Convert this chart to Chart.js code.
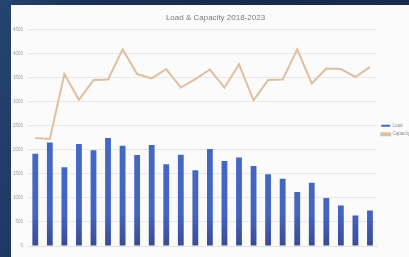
<!DOCTYPE html>
<html>
<head>
<meta charset="utf-8">
<script src="https://cdn.jsdelivr.net/npm/chart.js@4/dist/chart.umd.min.js"></script>
<style>
  html, body { margin: 0; padding: 0; width: 409px; height: 257px; overflow: hidden; }
  body { background: linear-gradient(100deg, #24456f 0%, #1a3057 20%, #18294b 60%, #1c2c4f 100%); position: relative; }
  #panel { position: absolute; left: 11px; top: 5px; width: 420px; height: 252px; background: #fbfbfb; overflow: hidden; }
  #wrap { position: absolute; left: 0; top: 0; width: 409px; height: 252px; }
</style>
</head>
<body>
<div id="panel"><div id="wrap"><canvas id="c"></canvas></div></div>
<script>
const categories = ["Apr","Jul","Oct","Jan","Apr","Jul","Oct","Jan","Apr","Jul","Oct","Jan",
                    "Apr","Jul","Oct","Jan","Apr","Jul","Oct","Jan","Apr","Jul","Oct","Jan"];
const loadValues = [1920,2150,1640,2120,1990,2245,2085,1890,2100,1700,1895,1575,
                    2015,1770,1840,1665,1490,1400,1125,1315,1000,840,635,740];
const capacityValues = [2245,2225,3575,3040,3450,3460,4090,3575,3485,3680,3295,3470,
                        3670,3295,3775,3030,3450,3460,4090,3380,3690,3680,3515,3725];
const yTicks = [0,500,1000,1500,2000,2500,3000,3500,4000,4500];
const titleText = "Load & Capacity 2018-2023";
const seriesNames = ["Load", "Capacity"];

const ctx = document.getElementById('c');
new Chart(ctx, {
  data: {
    labels: categories,
    datasets: [
      {
        type: 'line',
        label: seriesNames[1],
        data: capacityValues,
        borderColor: '#e0bfa0',
        backgroundColor: '#e0bfa0',
        borderWidth: 2,
        pointRadius: 0,
        tension: 0,
        order: 0
      },
      {
        type: 'bar',
        label: seriesNames[0],
        data: loadValues,
        backgroundColor: (c) => {
          const a = c.chart.chartArea;
          if (!a) return '#4a6cc4';
          const g = c.chart.ctx.createLinearGradient(0, a.top, 0, a.bottom);
          g.addColorStop(0, '#456cca');
          g.addColorStop(0.85, '#4465c2');
          g.addColorStop(1, '#3b4a94');
          return g;
        },
        borderWidth: 0,
        barPercentage: 0.8,
        categoryPercentage: 0.5,
        order: 1
      }
    ]
  },
  options: {
    responsive: true,
    maintainAspectRatio: false,
    animation: false,
    layout: { padding: { left: 0, right: 0, top: 0, bottom: 2 } },
    plugins: {
      title: {
        display: true,
        text: titleText,
        color: '#7a7a7a',
        font: { family: 'Liberation Sans', size: 8, weight: 'normal' },
        padding: { top: 8, bottom: 7 }
      },
      legend: {
        display: true,
        position: 'right',
        reverse: true,
        labels: {
          color: '#8a8a8a',
          font: { family: 'Liberation Sans', size: 4.5 },
          boxWidth: 9,
          boxHeight: 2,
          padding: 4
        }
      },
      tooltip: { enabled: false }
    },
    scales: {
      x: {
        grid: { display: false },
        border: { display: true, color: '#e2e2e2' },
        ticks: { color: '#9a9a9a', font: { family: 'Liberation Sans', size: 4.5 }, padding: 2, maxRotation: 0, autoSkip: false },
        afterFit: (s) => { s.height = 9; }
      },
      y: {
        min: 0,
        max: 4500,
        afterBuildTicks: (s) => { s.ticks = yTicks.map(v => ({ value: v })); },
        grid: { color: '#e8e8e8', lineWidth: 1, drawTicks: false },
        border: { display: false },
        ticks: { color: '#9a9a9a', font: { family: 'Liberation Sans', size: 4.5 }, padding: 5, callback: (v) => String(v) },
        afterFit: (s) => { s.width = 17; }
      }
    }
  }
});
</script>
</body>
</html>
